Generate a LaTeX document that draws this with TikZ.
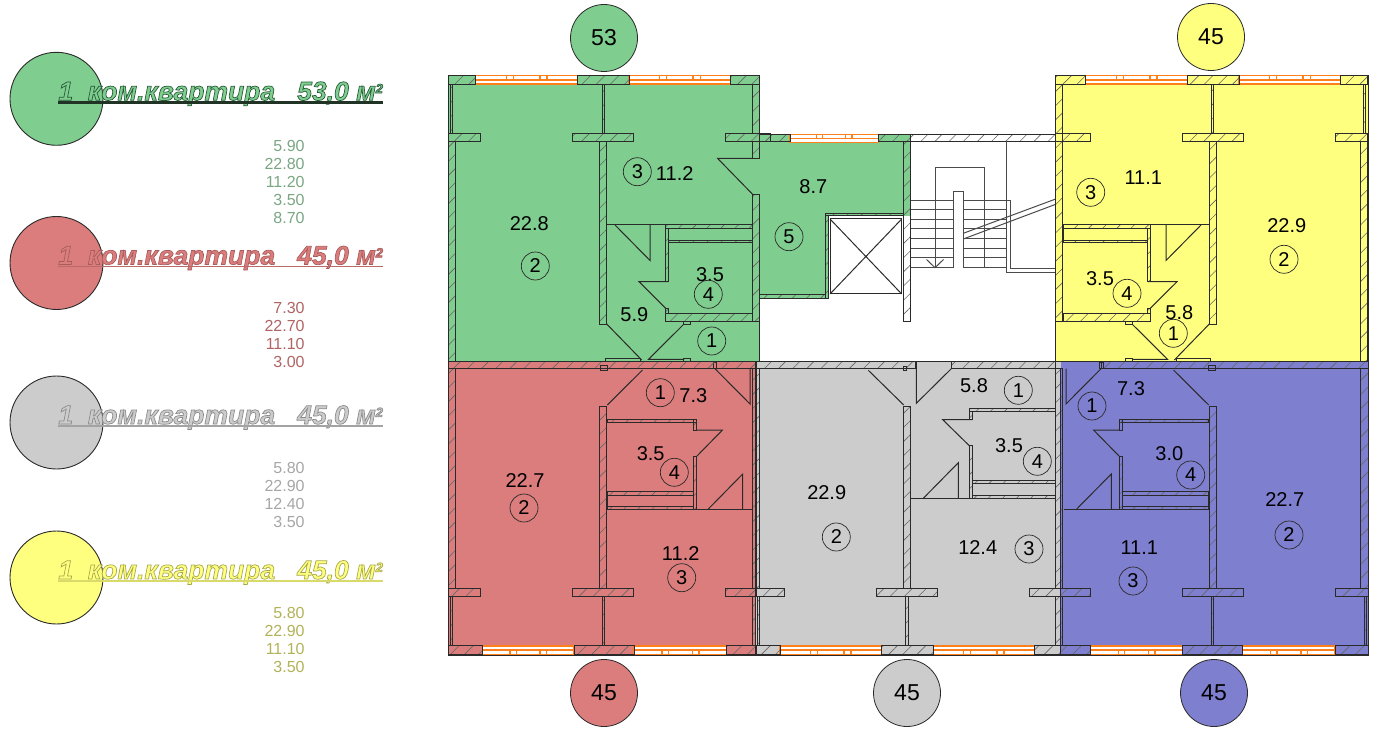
\documentclass[tikz,border=0pt]{standalone}
\usepackage{fontspec}
\setmainfont{Liberation Sans}
\usetikzlibrary{patterns.meta}

\definecolor{flatgreen}{HTML}{7FCD8F}
\definecolor{flatred}{HTML}{DC7D7D}
\definecolor{flatgrey}{HTML}{CCCCCC}
\definecolor{flatyellow}{HTML}{FFFF7F}
\definecolor{flatblue}{HTML}{7F7FCF}
\definecolor{edgedark}{HTML}{2A2A2A}
\definecolor{glazing}{HTML}{FF7F1A}

\tikzset{
    wall/.style={draw=edgedark,line width=0.5pt,pattern={Lines[angle=45,distance=5pt,line width=0.3pt]},pattern color=black!60},
    doorline/.style={draw=edgedark,line width=0.5pt},
    stairline/.style={draw=edgedark!85,line width=0.5pt},
    windowline/.style={draw=glazing,line width=0.7pt},
    flatfill/.style={draw=edgedark,line width=0.6pt},
    areatxt/.style={inner sep=0pt,font=\fontsize{10}{12}\selectfont},
    roomno/.style={circle,draw=edgedark,line width=0.35pt,minimum size=14pt,inner sep=0pt,font=\fontsize{10}{12}\selectfont},
    topno/.style={circle,draw=edgedark,line width=0.4pt,minimum size=33.5pt,inner sep=0pt,font=\fontsize{11.5}{13}\selectfont},
    legcirc/.style={circle,draw=edgedark,line width=0.45pt,minimum size=46.5pt,inner sep=0pt},
    legtxt/.style={anchor=base west,inner sep=0pt,font=\fontsize{13.25}{16}\selectfont\bfseries\itshape},
    legnum/.style={anchor=east,inner sep=0pt,font=\fontsize{8}{10}\selectfont}
}

% window between two piers
\newcommand{\wnd}[3]{
    \draw[windowline,fill=white] (#1,#3) rectangle (#2,#3+8.4);
    \draw[windowline] (#1,#3+4.2) -- (#2,#3+4.2);
    \foreach \f in {0.3,0.37,0.63,0.7}
        \draw[windowline] ({#1+\f*(#2-#1)},#3) -- ++(0,4.2);
}

% outer shell of one flat, drawn in the frame of the top left one
\newcommand{\flatshell}[6]{
    \wnd{#2}{#3}{75.7}
    \wnd{#4}{#5}{75.7}
    \draw[wall] (#1,75.7) rectangle (#2,84.3);
    \draw[wall] (#3,75.7) rectangle (#4,84.3);
    \draw[wall] (#5,75.7) rectangle (#6,84.3);
    \draw[wall] (#1,134) rectangle (480.7,141.7);
    \draw[wall] (572.7,134) rectangle (633.7,141.7);
    \draw[wall] (725.7,134) rectangle (#6,141.7);
    \draw[wall] (602.3,84.3) rectangle (604.7,134);
    \draw[wall] (599.7,141.7) rectangle (606.7,324);
    \draw[wall] (#1+1.6,84.3) rectangle (#1+3.9,134);
    \draw[wall] (#1,141.7) rectangle (455.7,361.6);
}

% kitchen side of the two upper flats
\newcommand{\flatcoreup}{
    \draw[doorline] (606.7,225) -- (752.3,225);
    \draw[wall] (665.7,225) rectangle (752.3,229);
    \draw[doorline] (668.3,229) rectangle (752.3,240.3);
    \draw[wall] (668.3,240.3) rectangle (752.3,243);
    \draw[wall] (665.7,229) rectangle (668.3,281.7);
    \draw[doorline] (668.3,281.7) -- (639,281.7) -- (665.7,308.3);
    \draw[wall] (665.7,308.3) rectangle (668.3,313.3);
    \draw[wall] (665.7,313.3) rectangle (752.3,321.7);
    \draw[doorline] (615,225) -- (650,260.5) -- (650,225);
    \draw[doorline] (606.7,324) -- (641.7,360);
    \draw[doorline] (684,324) -- (648.5,359.3) -- (684,359.3);
    \draw[doorline] (683.3,321.7) rectangle (690.3,324.3);
    \draw[doorline] (683.3,358.5) rectangle (690.3,361.6);
    \draw[doorline] (605.7,358.5) rectangle (640,361.6);
}

% kitchen side of the two lower flats
\newcommand{\flatcoredown}{
    \draw[doorline] (607.3,509) -- (752.3,509);
    \draw[wall] (607.3,419.3) rectangle (696.3,422.7);
    \draw[wall] (693.3,419.3) rectangle (696.3,430);
    \draw[doorline] (696.3,430) -- (722.5,430) -- (696.3,456.7);
    \draw[wall] (693.3,456.7) rectangle (696.3,509);
    \draw[wall] (607.3,491) rectangle (693.3,495);
    \draw[doorline] (607.3,495) rectangle (693.3,506.7);
    \draw[wall] (607.3,506.7) rectangle (693.3,509);
    \draw[doorline] (607.3,405) -- (642.5,370);
    \draw[doorline] (715,368.7) -- (750,404) -- (750,368.7);
    \draw[doorline] (600.7,365) rectangle (607.3,370);
    \draw[doorline] (713,362) rectangle (716.7,368.7);
}

\begin{document}
\begin{tikzpicture}[x=0.5pt,y=-0.5pt]
    \useasboundingbox (0,0) rectangle (1400,737);

    % colour of the flats
    \fill[flatyellow] (1055.7,75.7) rectangle (1368.3,361.6);
    \draw[flatfill] (1055.7,75.7) rectangle (1368.3,361.6);
    \fill[flatgreen] (448.5,75.7) -- (759.3,75.7) -- (759.3,134.3) -- (910.7,134.3) -- (910.7,216) -- (828,216)
        -- (828,298.3) -- (759.3,298.3) -- (759.3,361.6) -- (448.5,361.6) -- cycle;
    \draw[flatfill] (759.3,134.3) -- (759.3,75.7) -- (448.5,75.7) -- (448.5,361.6) -- (759.3,361.6) -- (759.3,298.3);
    \fill[flatred] (448.5,361.6) rectangle (755.7,655);
    \fill[flatgrey] (755.7,361.6) rectangle (1060.7,655);
    \fill[flatblue] (1060.7,361.6) rectangle (1368.3,655);
    \draw[flatfill] (448.5,361.6) rectangle (1368.3,655);

    % top left flat
    \flatshell{448.5}{475.7}{577.7}{629}{730.7}{759.3}
    \flatcoreup
    \draw[wall] (752.3,84.3) rectangle (759.3,134);
    \draw[wall] (752.3,141.7) rectangle (759.3,158.5);
    \draw[wall] (752.3,195) rectangle (759.3,321.7);
    \draw[doorline] (752.3,158.5) -- (717.7,158.5) -- (752.3,194);

    % hall flat part and lift
    \wnd{790}{878.3}{134.3}
    \draw[wall] (759.3,134.3) rectangle (790,141.3);
    \draw[wall] (878.3,134.3) rectangle (910.7,141.3);
    \draw[wall] (759.3,134) rectangle (770,141.7);
    \draw[wall] (903.7,141.3) rectangle (910.7,321.7);
    \draw[wall] (825,213.3) rectangle (903.7,216);
    \draw[wall] (825,216) rectangle (828,298.3);
    \draw[wall] (759.3,295) rectangle (825,298.3);
    \draw[doorline] (830,219) rectangle (901.7,294);
    \draw[doorline] (830,219) -- (901.7,294) (830,294) -- (901.7,219);

    % stairs
    \draw[wall] (910.7,134.3) rectangle (1055.7,141.3);
    \foreach \y in {210,219.3,229,238.7,248.3,258,267.7} {
        \draw[stairline] (910.7,\y) -- (953,\y);
        \draw[stairline] (963.3,\y) -- (1006,\y);
    }
    \draw[stairline] (910.7,200.3) -- (953,200.3) (963.3,200.3) -- (1010,200.3) -- (1010,268.3) -- (1055.7,268.3);
    \draw[stairline] (1006,141.3) -- (1006,272.7) -- (1055.7,272.7);
    \draw[stairline] (953,267.7) -- (953,191.7) -- (963.3,191.7) -- (963.3,267.7);
    \draw[stairline] (935,267.7) -- (935,167.7) -- (984.7,167.7) -- (984.7,267.7);
    \draw[stairline] (926.5,259.5) -- (935,267.7) -- (943.5,259.5);
    \draw[stairline] (963.3,233.3) -- (1055.7,199);
    \draw[stairline] (963.3,239) -- (1055.7,204.3);

    % top right flat
    \begin{scope}[shift={(1816,0)},xscale=-1]
        \flatshell{448.5}{475.3}{577}{628.3}{730.3}{760.3}
        \flatcoreup
        \draw[wall] (753.7,84.3) rectangle (760.3,321.7);
    \end{scope}

    % bottom left flat
    \begin{scope}[shift={(0,730)},yscale=-1]
        \flatshell{448.5}{482.3}{574}{634}{726.7}{755.7}
        \draw[wall] (752.3,84.3) rectangle (755.7,134);
        \draw[wall] (752.3,141.7) rectangle (755.7,361.6);
    \end{scope}
    \flatcoredown
    \draw[wall] (448.5,361.6) rectangle (755.7,368.6);
    \draw[doorline] (708.3,509) -- (742.7,474) -- (742.7,509);

    % bottom middle flat
    \begin{scope}[shift={(303.5,730)},yscale=-1]
        \flatshell{452.5}{476.5}{577.8}{629.8}{730.8}{757.2}
        \draw[wall] (752.2,84.3) rectangle (757.2,134);
        \draw[wall] (752.2,141.7) rectangle (757.2,361.6);
    \end{scope}
    \draw[wall] (756,361.6) rectangle (915,368.6);
    \draw[wall] (951.7,361.6) rectangle (1055.7,368.6);
    \draw[doorline] (903.7,366.7) rectangle (906.7,370.7);
    \draw[doorline] (868.3,370.3) -- (903.7,405);
    \draw[doorline] (916.3,361.7) -- (916.3,403.3) -- (951.7,368.3);
    \draw[wall] (969.3,408.3) rectangle (1055.7,411.7);
    \draw[wall] (969.3,411.7) rectangle (972.3,419.7);
    \draw[doorline] (972.3,419.7) -- (942.7,419.7) -- (969.3,445.7);
    \draw[wall] (969.3,445.7) rectangle (972.3,498.3);
    \draw[wall] (972.3,480.3) rectangle (1055.7,483.3);
    \draw[doorline] (972.3,483.3) rectangle (1055.7,495);
    \draw[wall] (972.3,495) rectangle (1055.7,498.3);
    \draw[doorline] (910.7,498.3) -- (1055.7,498.3);
    \draw[doorline] (923.3,498.3) -- (958.3,462.7) -- (958.3,498.3);

    % bottom right flat
    \begin{scope}[shift={(1816,730)},xscale=-1,yscale=-1]
        \flatshell{447.7}{481}{573.3}{633.3}{725.3}{755.3}
        \draw[wall] (753.7,84.3) rectangle (755.3,134);
        \draw[wall] (753.7,141.7) rectangle (755.3,361.6);
    \end{scope}
    \begin{scope}[shift={(1816,0)},xscale=-1]
        \flatcoredown
        \draw[wall] (447.7,361.6) rectangle (714.3,368.6);
    \end{scope}
    \draw[doorline] (1076.7,509) -- (1111.3,474) -- (1111.3,509);

    % room areas
    \foreach \x/\y/\t [count=\i] in {
        529.3/223.3/22.8, 674.7/174/11.2, 710/275/3.5, 634.3/315/5.9, 813.3/186.7/8.7,
        1143.3/177.3/11.1, 1286.7/226/22.9, 1100/278.3/3.5, 1179.3/312.7/5.8,
        693.3/395.7/7.3, 650.7/453.3/3.5, 525/481/22.7, 680.7/553.3/11.2,
        974/386/5.8, 1009/446/3.5, 826.7/492.7/22.9, 977.7/547.7/12.4,
        1131/389/7.3, 1169.3/454/3.0, 1284.7/500/22.7, 1139.3/547.3/11.1}
        \node[areatxt] (area\i) at (\x,\y) {\t};

    % room numbers
    \foreach \x/\y/\t [count=\i] in {
        535.3/266/2, 637.3/171.7/3, 708.3/294.3/4, 711.7/341/1, 789/236.7/5,
        1090.7/192.3/3, 1284/259.3/2, 1127/293.3/4, 1173.3/333.3/1,
        660.3/392.7/1, 674.3/472.3/4, 524/508/2, 681.7/577.7/3,
        1018.3/390.3/1, 1037.3/461.3/4, 836.3/537/2, 1029/549/3,
        1092/406/1, 1190.7/475/4, 1289/535/2, 1133/581/3}
        \node[roomno] (room\i) at (\x,\y) {\t};

    % flat sizes round the plan
    \foreach \x/\y/\col/\t [count=\i] in {604/38/flatgreen/53, 1211/37/flatyellow/45, 604/693/flatred/45, 907/693/flatgrey/45, 1214/693/flatblue/45}
        \node[topno,fill=\col] (flat\i) at (\x,\y) {\t};

    % legend
    \foreach \y/\col/\strk/\ul/\w/\a [count=\i] in {
        98.8/flatgreen/0.15 0.36 0.22/black!75!flatgreen/1.5pt/53,
        263/flatred/0.66 0.36 0.36/flatred!85!black/0.8pt/45,
        422.5/flatgrey/0.55 0.55 0.55/flatgrey!80!black/0.8pt/45,
        577.5/flatyellow/0.66 0.66 0.3/flatyellow!85!black/0.8pt/45} {
        \node[legcirc,fill=\col] (legc\i) at (56.5,\y) {};
        \node[legtxt,text=\col] (legt\i) at (58,\y+1.5) {\special{pdf:literal 2 Tr 0.35 w \strk\space RG}1\ \ ком.квартира\ \ \ \a,0 м\raisebox{3.6pt}{\fontsize{6.5}{7}\selectfont 2}\special{pdf:literal 0 Tr 0 G}};
        \draw[draw=\ul,line width=\w] ([yshift=-1.1pt]legt\i.base west) -- ([yshift=-1.1pt]legt\i.base east);
    }
    \foreach \t [count=\k] in {5.90,22.80,11.20,3.50,8.70}
        \node[legnum,text=flatgreen!70!black!80] (numg\k) at (305,{128+18*\k}) {\t};
    \foreach \t [count=\k] in {7.30,22.70,11.10,3.00}
        \node[legnum,text=flatred!80!black] (numr\k) at (305,{290+18*\k}) {\t};
    \foreach \t [count=\k] in {5.80,22.90,12.40,3.50}
        \node[legnum,text=black!35] (numa\k) at (305,{450+18*\k}) {\t};
    \foreach \t [count=\k] in {5.80,22.90,11.10,3.50}
        \node[legnum,text=flatyellow!70!black] (numy\k) at (305,{595+18*\k}) {\t};
\end{tikzpicture}
\end{document}
